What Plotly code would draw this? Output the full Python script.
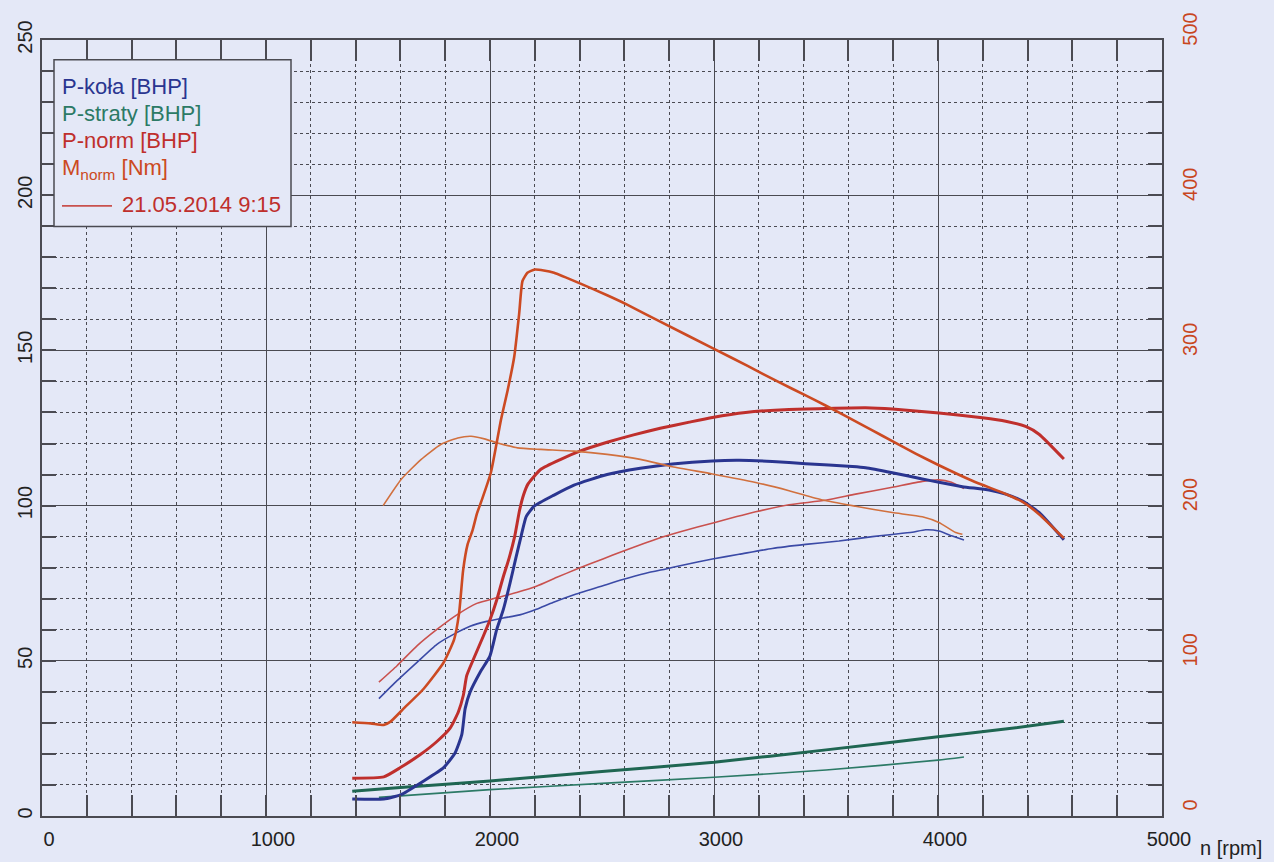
import plotly.graph_objects as go

# ---- measured run (thick lines) ----
rpm_kola_a = [1385, 1526, 1600, 1704, 1793, 1844, 1874, 1889, 1911, 1956, 2000, 2030, 2059, 2089,
              2115, 2140, 2162, 2197, 2286, 2375, 2523, 2671, 2814, 2993, 3112, 3260, 3409, 3618,
              3677, 3796, 3930, 4004, 4109, 4228, 4302, 4376, 4451, 4562]
p_kola_a = [5.5, 5.5, 6.8, 11.3, 15.6, 20.3, 26.2, 34.6, 39.9, 46.3, 51.6, 60.1, 66.4, 74.9,
            83.0, 90.5, 96.5, 99.8, 103.4, 106.6, 110.0, 112.0, 113.4, 114.4, 114.6, 114.2, 113.5, 112.6,
            112.2, 110.6, 108.6, 107.5, 106.1, 105.0, 103.7, 101.5, 97.8, 89.0]

rpm_norm_a = [1385, 1526, 1600, 1689, 1763, 1822, 1859, 1881, 1896, 1926, 1970, 2000, 2030, 2059,
              2085, 2110, 2132, 2150, 2170, 2227, 2316, 2404, 2523, 2641, 2760, 2890, 2993, 3141,
              3335, 3498, 3677, 3796, 4004, 4198, 4302, 4391, 4451, 4562]
p_norm_a = [12.2, 12.6, 15.6, 19.8, 24.0, 28.3, 33.6, 38.9, 45.2, 50.5, 57.9, 63.2, 69.6, 77.0,
            83.0, 90.0, 98.5, 103.5, 107.0, 111.7, 114.9, 117.6, 120.4, 122.8, 124.9, 126.9, 128.4, 130.0,
            131.0, 131.3, 131.5, 131.1, 129.8, 128.3, 127.2, 125.5, 123.0, 115.0]

rpm_m_a = [1385, 1467, 1526, 1556, 1615, 1704, 1793, 1840, 1862, 1880, 1900, 1922, 1942, 1962,
           2004, 2049, 2079, 2108, 2130, 2145, 2167, 2200, 2240, 2286, 2404, 2523, 2612, 2760,
           3000, 3150, 3290, 3409, 3498, 3603, 3707, 3796, 3900, 4004, 4153, 4302, 4376, 4451, 4562]
m_norm_a = [60.4, 59.7, 58.7, 60.8, 69.3, 82.0, 98.9, 113.8, 130.7, 158.3, 175.0, 184.0, 195.0, 203.0,
            221.3, 255.3, 274.5, 295.7, 323.4, 344.7, 350.0, 352.1, 351.5, 350.0, 343.0, 335.5, 329.5, 318.5,
            301.0, 290.0, 279.5, 271.0, 264.5, 256.5, 248.5, 241.5, 233.5, 226.0, 216.0, 207.5, 202.5, 194.5, 179.0]

rpm_straty_a = [1385, 1600, 2000, 2500, 3000, 3500, 4000, 4300, 4562]
p_straty_a = [8.0, 9.2, 11.3, 14.3, 17.3, 21.3, 25.5, 28.0, 30.5]

# ---- run 21.05.2014 9:15 (thin lines) ----
rpm_kola_b = [1504, 1585, 1674, 1763, 1837, 1911, 1985, 2059, 2133, 2207, 2281, 2385, 2504, 2593,
              2696, 2785, 2859, 2993, 3112, 3260, 3409, 3558, 3707, 3796, 3885, 3945, 4004, 4064, 4116]
p_kola_b = [37.8, 43.6, 49.5, 55.3, 58.5, 61.1, 62.7, 63.8, 64.8, 66.6, 68.8, 71.5, 74.2, 76.2,
            78.2, 79.6, 80.8, 82.8, 84.3, 86.2, 87.5, 88.6, 90.0, 90.7, 91.4, 92.2, 91.8, 90.2, 88.9]

rpm_norm_b = [1504, 1585, 1674, 1763, 1852, 1941, 2030, 2119, 2207, 2296, 2385, 2504, 2593, 2696,
              2785, 2850, 3000, 3186, 3335, 3498, 3632, 3796, 3930, 4004, 4060, 4116]
p_norm_b = [43.1, 48.4, 54.8, 60.1, 64.8, 68.5, 70.3, 72.0, 74.0, 76.8, 79.5, 82.8, 85.3, 88.0,
            90.2, 91.6, 94.5, 98.0, 100.3, 101.7, 103.7, 105.9, 107.8, 108.3, 107.5, 105.5]

rpm_m_b = [1523, 1604, 1693, 1780, 1856, 1916, 1975, 2034, 2123, 2227, 2375, 2523, 2671, 2814,
           2993, 3186, 3335, 3484, 3632, 3796, 3930, 4004, 4079, 4109]
m_norm_b = [200.0, 217.0, 229.8, 239.4, 243.6, 244.7, 243.0, 240.4, 237.2, 236.2, 235.1, 233.0, 229.8, 225.0,
            220.4, 214.9, 209.6, 203.6, 199.6, 195.5, 192.8, 189.1, 182.6, 181.5]

rpm_straty_b = [1504, 2000, 2500, 3000, 3500, 4000, 4116]
p_straty_b = [6.0, 8.5, 10.5, 12.5, 14.8, 18.0, 19.0]

legend_rows = ["P-koła [BHP]", "P-straty [BHP]", "P-norm [BHP]", "M<sub>norm</sub> [Nm]"]
run_label = "21.05.2014 9:15"

BG = "#e4e8f7"
GRID = "#4a4a52"
C_BLUE = "#2a3590"
C_BLUE_T = "#3b4aa6"
C_GREEN = "#1f6652"
C_GREEN_T = "#2c7a66"
C_RED = "#bf2f2c"
C_RED_T = "#c9514e"
C_ORANGE = "#cc4a22"
C_ORANGE_T = "#d1703e"
FONT = "Liberation Sans, Arial, sans-serif"

fig = go.Figure()


def add(x, y, color, width, axis="y"):
    fig.add_trace(go.Scatter(x=x, y=y, mode="lines", yaxis=axis,
                             line=dict(color=color, width=width, shape="spline", smoothing=0.5),
                             hoverinfo="skip"))


# thin run first, thick run on top
add(rpm_straty_b, p_straty_b, C_GREEN_T, 1.6)
add(rpm_kola_b, p_kola_b, C_BLUE_T, 1.6)
add(rpm_norm_b, p_norm_b, C_RED_T, 1.6)
add(rpm_m_b, m_norm_b, C_ORANGE_T, 1.6, "y2")

add(rpm_straty_a, p_straty_a, C_GREEN, 3)
add(rpm_kola_a, p_kola_a, C_BLUE, 3)
add(rpm_norm_a, p_norm_a, C_RED, 3)
add(rpm_m_a, m_norm_a, C_ORANGE, 2.6, "y2")

fig.update_layout(
    width=1274, height=862,
    margin=dict(l=42, r=112, t=33, b=43),
    paper_bgcolor=BG, plot_bgcolor=BG,
    showlegend=False,
    font=dict(family=FONT, size=20, color="#222"),
    xaxis=dict(
        range=[0, 5000], tick0=0, dtick=1000,
        ticks="inside", ticklen=21, tickcolor=GRID, tickwidth=1.8,
        showgrid=True, gridcolor=GRID, gridwidth=1.4,
        showline=True, linecolor=GRID, linewidth=1.6, mirror="ticks",
        zeroline=False, ticklabelshift=7, ticklabelstandoff=4,
        tickfont=dict(size=20, color="#222"),
        minor=dict(dtick=200, showgrid=True, griddash="dot", gridcolor=GRID, gridwidth=1.3,
                   ticks="inside", ticklen=21, tickcolor=GRID, tickwidth=1.8),
    ),
    yaxis=dict(
        range=[0, 250], tick0=0, dtick=50, tickangle=-90,
        ticks="inside", ticklen=14, tickcolor=GRID, tickwidth=1.8,
        showgrid=True, gridcolor=GRID, gridwidth=1.4,
        showline=True, linecolor=GRID, linewidth=1.6, mirror="ticks",
        zeroline=False, tickfont=dict(size=20, color="#222"),
        minor=dict(dtick=10, showgrid=True, griddash="dot", gridcolor=GRID, gridwidth=1.3,
                   ticks="inside", ticklen=14, tickcolor=GRID, tickwidth=1.8),
    ),
    yaxis2=dict(
        range=[0, 500], tick0=0, dtick=100, overlaying="y", side="right",
        showgrid=False, zeroline=False, showline=False, ticks="", tickangle=-90,
        ticklabelstandoff=14, ticklabelshift=-8,
        tickfont=dict(size=20, color="#c8461e"),
    ),
)

# legend box
W, H = 1120.0, 786.0


def px(xp):
    return (xp - 42) / W


def py(yp):
    return (819 - yp) / H


fig.add_shape(type="rect", xref="paper", yref="paper",
              x0=px(54), x1=px(291), y0=py(222), y1=py(53),
              line=dict(color=GRID, width=1.5), fillcolor=BG, layer="above")

row_colors = [C_BLUE, C_GREEN_T, C_RED, C_ORANGE]
row_y = [80, 107, 135, 164]
for txt, col, yy in zip(legend_rows, row_colors, row_y):
    fig.add_annotation(xref="paper", yref="paper", x=px(60), y=py(yy), text=txt,
                       showarrow=False, xanchor="left", yanchor="middle",
                       font=dict(family=FONT, size=22, color=col))

fig.add_shape(type="line", xref="paper", yref="paper",
              x0=px(62), x1=px(112), y0=py(201), y1=py(201),
              line=dict(color=C_RED_T, width=1.6), layer="above")
fig.add_annotation(xref="paper", yref="paper", x=px(120), y=py(200), text=run_label,
                   showarrow=False, xanchor="left", yanchor="middle",
                   font=dict(family=FONT, size=22, color=C_RED))

fig.add_annotation(xref="paper", yref="paper", x=px(1231), y=py(851), text="n [rpm]",
                   showarrow=False, xanchor="center", yanchor="middle",
                   font=dict(family=FONT, size=20, color="#222"))

fig.write_html("out.html")
